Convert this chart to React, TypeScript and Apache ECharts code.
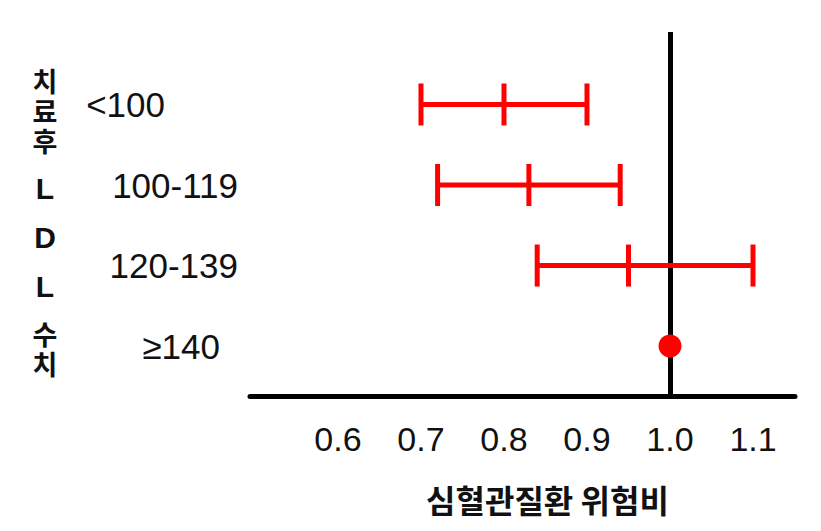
import React, { useEffect, useRef } from "react";
import * as echarts from "echarts";

const categories = ["<100", "100-119", "120-139", "≥140"];
const lower = [0.7, 0.72, 0.84, null];
const estimate = [0.8, 0.83, 0.95, 1.0];
const upper = [0.9, 0.94, 1.1, null];
const xTicks = [0.6, 0.7, 0.8, 0.9, 1.0, 1.1];
const referenceValue = 1.0;
const xAxisTitle = "심혈관질환 위험비";
const yAxisTitleGroups = ["치료후", "LDL", "수치"];

const RED = "#ff0000";
const labelPadRight = [73, 0, 0, 18];

export default function App() {
  const ref = useRef<HTMLDivElement>(null);
  useEffect(() => {
    if (!ref.current) return;
    const chart = echarts.init(ref.current, null, { renderer: "svg" });

    const barData: any[] = [];
    const pointData: any[] = [];
    categories.forEach((c, i) => {
      if (lower[i] != null && upper[i] != null) {
        barData.push([lower[i], estimate[i], upper[i], i]);
      } else {
        pointData.push([estimate[i], i]);
      }
    });

    const rich: any = {};
    categories.forEach((c, i) => {
      rich["r" + i] = {
        fontSize: 35,
        fontFamily: "Liberation Sans, Arial, sans-serif",
        color: "#111",
        padding: [0, labelPadRight[i], 0, 0],
      };
    });

    // vertical y-axis title: each character on its own line
    const yNameLines: string[] = ["{t| }"];
    yAxisTitleGroups.forEach((g, gi) => {
      if (gi > 0) yNameLines.push("{s| }");
      g.split("").forEach((ch) => {
        const isLatin = /[A-Za-z]/.test(ch);
        yNameLines.push(`{${isLatin ? "l" : "h"}|${ch}}`);
      });
    });
    const yName = yNameLines.join("\n");

    const option: any = {
      animation: false,
      grid: {
        left: 250,
        right: 26,
        top: 32,
        bottom: 135,
        containLabel: false,
        outerBoundsMode: "none",
      },
      xAxis: {
        type: "value",
        min: 0.494,
        max: 1.1506,
        axisLine: { show: true, onZero: false, lineStyle: { color: "#000", width: 5 } },
        axisTick: { show: false },
        splitLine: { show: false },
        axisLabel: {
          customValues: xTicks,
          formatter: (v: number) => v.toFixed(1),
          fontSize: 34,
          fontFamily: "Liberation Sans, Arial, sans-serif",
          color: "#111",
          margin: 26,
        },
        name: xAxisTitle,
        nameLocation: "middle",
        nameGap: 87,
        nameTextStyle: {
          fontSize: 32,
          fontWeight: "bold",
          fontFamily: "Noto Sans CJK KR, sans-serif",
          color: "#111",
          padding: [0, 0, 0, 50],
        },
      },
      yAxis: {
        type: "value",
        inverse: true,
        min: -0.9,
        max: 3.62,
        axisLine: { show: false },
        axisTick: { show: false },
        splitLine: { show: false },
        axisLabel: {
          customValues: categories.map((c, i) => i),
          formatter: (v: number) => `{r${v}|${categories[v]}}`,
          rich,
          margin: 12,
        },
        name: yName,
        nameLocation: "middle",
        nameRotate: 0,
        nameGap: 205,
        nameTextStyle: {
          color: "#111",
          align: "center",
          rich: {
            t: { fontSize: 10, lineHeight: 16 },
            s: { fontSize: 8, lineHeight: 8 },
            h: {
              fontSize: 27,
              fontWeight: "bold",
              fontFamily: "Noto Sans CJK KR, sans-serif",
              color: "#111",
              lineHeight: 30,
            },
            l: {
              fontSize: 30,
              fontWeight: "bold",
              fontFamily: "Liberation Sans, Arial, sans-serif",
              color: "#111",
              lineHeight: 49,
            },
          },
        },
      },
      series: [
        {
          type: "custom",
          data: barData,
          encode: { x: [0, 1, 2], y: 3 },
          renderItem: (params: any, api: any) => {
            const y = api.value(3);
            const pl = api.coord([api.value(0), y]);
            const pm = api.coord([api.value(1), y]);
            const pu = api.coord([api.value(2), y]);
            const h = 21;
            const style = { stroke: RED, lineWidth: 5 };
            return {
              type: "group",
              children: [
                { type: "line", shape: { x1: pl[0], y1: pl[1], x2: pu[0], y2: pu[1] }, style },
                { type: "line", shape: { x1: pl[0], y1: pl[1] - h, x2: pl[0], y2: pl[1] + h }, style },
                { type: "line", shape: { x1: pm[0], y1: pm[1] - h, x2: pm[0], y2: pm[1] + h }, style },
                { type: "line", shape: { x1: pu[0], y1: pu[1] - h, x2: pu[0], y2: pu[1] + h }, style },
              ],
            };
          },
          markLine: {
            silent: true,
            symbol: "none",
            label: { show: false },
            lineStyle: { color: "#000", width: 5, type: "solid" },
            data: [{ xAxis: referenceValue }],
            z: 1,
          },
          z: 3,
        },
        {
          type: "scatter",
          data: pointData,
          symbol: "circle",
          symbolSize: 23,
          itemStyle: { color: RED, opacity: 1 },
          z: 4,
        },
      ],
    };
    chart.setOption(option);
    return () => chart.dispose();
  }, []);
  return (
    <div
      ref={ref}
      style={{ position: "absolute", left: 0, top: 0, width: 821, height: 531 }}
    />
  );
}
